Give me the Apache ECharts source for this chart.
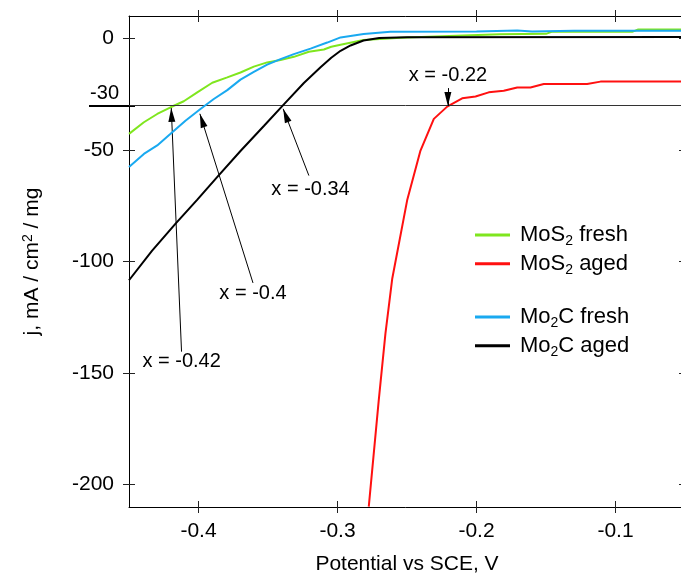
<!DOCTYPE html>
<html><head><meta charset="utf-8">
<script src="https://cdn.jsdelivr.net/npm/echarts@6/dist/echarts.min.js"></script>
<style>html,body{margin:0;padding:0;background:#fff;}#c{width:681px;height:575px;}</style>
</head><body><div id="c"></div>
<script>
// ---- data (potential in V vs SCE, current density j in mA/cm2/mg) ----
const mos2FreshX = [-0.45, -0.4393, -0.4297, -0.4201, -0.4106, -0.4009, -0.3901, -0.3793, -0.3698, -0.3602, -0.3506, -0.341, -0.3314, -0.3206, -0.3098, -0.3045, -0.2978, -0.2813, -0.2547, -0.2094, -0.183, -0.15, -0.146, -0.088, -0.084, -0.05];
const mos2FreshY = [-42.8, -37.6, -33.9, -30.9, -28.2, -24.2, -19.9, -17.5, -15.3, -12.7, -10.8, -9.7, -8.3, -6.0, -5.0, -3.8, -2.9, -0.8, 0.2, 1.25, 1.8, 2.0, 2.9, 2.9, 3.9, 3.9];

const mos2AgedX = [-0.2775, -0.2703, -0.2655, -0.2606, -0.2499, -0.2403, -0.2307, -0.2211, -0.2103, -0.2007, -0.1912, -0.1804, -0.1707, -0.1612, -0.1516, -0.1204, -0.1108, -0.05];
const mos2AgedY = [-209.8, -162.0, -132.2, -107.6, -72.6, -50.3, -36.1, -30.6, -26.9, -26.1, -24.2, -23.5, -22.0, -22.0, -20.5, -20.5, -19.4, -19.4];

const mo2cFreshX = [-0.45, -0.4393, -0.4297, -0.4201, -0.4094, -0.3986, -0.389, -0.3793, -0.3698, -0.3602, -0.3506, -0.341, -0.3314, -0.3194, -0.3074, -0.2978, -0.2812, -0.2619, -0.2, -0.1707, -0.16, -0.13, -0.05];
const mo2cFreshY = [-57.7, -51.8, -48.0, -42.8, -36.9, -31.7, -27.2, -23.2, -18.5, -15.0, -11.8, -9.3, -7.1, -4.6, -1.9, 0.4, 1.9, 2.9, 3.0, 3.5, 3.1, 3.4, 3.4];

const mo2cAgedX = [-0.45, -0.4335, -0.4165, -0.401, -0.3866, -0.3698, -0.353, -0.3386, -0.3242, -0.3122, -0.3045, -0.2978, -0.2906, -0.2813, -0.27, -0.25, -0.05];
const mo2cAgedY = [-108.4, -95.2, -83.0, -72.4, -62.2, -50.5, -39.3, -29.6, -20.0, -13.0, -8.7, -5.6, -3.2, -1.0, 0.1, 0.5, 0.6];

const seriesNames = ['MoS2 fresh', 'MoS2 aged', 'Mo2C fresh', 'Mo2C aged'];
const xTicks = [-0.4, -0.3, -0.2, -0.1];
const yTicks = [0, -50, -100, -150, -200];
const refLevel = -30;
const crossLabels = ['x = -0.42', 'x = -0.4', 'x = -0.34', 'x = -0.22'];
const crossX = [-0.4196, -0.399, -0.3391, -0.2206];

// ---- annotation layout (data-space anchors) ----
const noteAt = [[-0.4121, -144.6], [-0.3608, -114.3], [-0.3194, -67.7], [-0.2205, -16.8]];
const arrowFrom = [[-0.4122, -140.4], [-0.3608, -109.6], [-0.3206, -61.5], [-0.2206, -22.3]];
const arrowToY = [-31.2, -33.8, -31.6, -30.3];

const FONT = 'Liberation Sans, Arial, Helvetica, sans-serif';
const zip = (xs, ys) => xs.map((x, i) => [x, ys[i]]);
const colors = ['#7fe61e', '#ff1010', '#19a9f0', '#000000'];
const datasets = [zip(mos2FreshX, mos2FreshY), zip(mos2AgedX, mos2AgedY), zip(mo2cFreshX, mo2cFreshY), zip(mo2cAgedX, mo2cAgedY)];

const chart = echarts.init(document.getElementById('c'), null, {renderer: 'canvas'});

const XMIN = -0.45, XMAX = -0.05, YMIN = -210, YMAX = 10;
function xAx(pos, inside, main) {
  return {
    type: 'value', position: pos, min: XMIN, max: XMAX, gridIndex: 0,
    axisLine: {show: !inside, onZero: false, lineStyle: {color: '#000', width: 1}},
    axisTick: {show: true, inside: inside, length: 6, customValues: xTicks, lineStyle: {color: '#222', width: 1}},
    axisLabel: {show: !!main, customValues: xTicks, fontSize: 21, fontFamily: FONT, color: '#000', margin: 14},
    splitLine: {show: false},
    name: main ? 'Potential vs SCE, V' : '', nameLocation: 'middle', nameGap: 47,
    nameTextStyle: {fontSize: 21, fontFamily: FONT, color: '#000'}
  };
}
function yAx(pos, inside, main) {
  return {
    type: 'value', position: pos, min: YMIN, max: YMAX, gridIndex: 0,
    axisLine: {show: !inside, onZero: false, lineStyle: {color: '#000', width: 1}},
    axisTick: {show: true, inside: inside, length: 6, customValues: yTicks, lineStyle: {color: '#222', width: 1}},
    axisLabel: {show: !!main, customValues: yTicks, fontSize: 21, fontFamily: FONT, color: '#000', margin: 15},
    splitLine: {show: false},
    name: main ? 'j, mA / cm{sup|2} / mg' : '', nameLocation: 'middle', nameGap: 86,
    nameTextStyle: {fontSize: 21, fontFamily: FONT, color: '#000', rich: {sup: {fontSize: 14, fontFamily: FONT, verticalAlign: 'top', padding: [0, 0, 8, 0]}}}
  };
}

const legendFmt = n => n.replace(/(\D)2/, '$1{s|2}');
const legendText = {fontSize: 22, fontFamily: FONT, color: '#000', padding: [0, 0, 0, 5], lineHeight: 24,
  rich: {s: {fontSize: 14, fontFamily: FONT, color: '#000', lineHeight: 14, verticalAlign: 'top', padding: [11, 0, 0, 0]}}};

const markData = [
  {yAxis: refLevel, lineStyle: {color: '#333', width: 1}, symbol: 'none'}
];
crossX.forEach((cx, i) => {
  markData.push([
    {coord: arrowFrom[i], symbol: 'none'},
    {coord: [cx, arrowToY[i]], symbol: 'triangle', symbolSize: [7, 14], symbolOffset: [0, 7]}
  ]);
});

const series = seriesNames.map((n, i) => ({
  name: n, type: 'line', data: datasets[i], xAxisIndex: 0, yAxisIndex: 0,
  symbol: 'none', showSymbol: false, smooth: false, clip: true,
  lineStyle: {color: colors[i], width: 2}, itemStyle: {color: colors[i]}, z: 3 + i
}));
series.push({
  name: 'notes', type: 'line', data: [], xAxisIndex: 0, yAxisIndex: 0, symbol: 'none', z: 10,
  markLine: {silent: true, animation: false, symbol: ['none', 'none'], label: {show: false},
    lineStyle: {color: '#000', width: 1, type: 'solid'}, emphasis: {disabled: true}, data: markData},
  markPoint: {silent: true, animation: false, symbol: 'rect', symbolSize: 0,
    label: {show: true, position: 'inside', formatter: '{b}', fontSize: 20, fontFamily: FONT, color: '#000'},
    data: crossLabels.map((t, i) => ({name: t, coord: noteAt[i]}))}
});

const legendBase = {orient: 'vertical', left: 475, padding: 0, icon: 'rect', itemWidth: 35, itemHeight: 3, itemGap: 3.7,
  textStyle: legendText, formatter: legendFmt, selectedMode: false};

chart.setOption({
  animation: false,
  backgroundColor: '#fff',
  grid: {left: 129, top: 16, width: 556, height: 491, containLabel: false, outerBoundsMode: 'none'},
  xAxis: [xAx('bottom', false, true), xAx('bottom', true, false), xAx('top', false, false), xAx('top', true, false)],
  yAxis: [yAx('left', false, true), yAx('left', true, false), yAx('right', false, false), yAx('right', true, false),
    {
      type: 'value', position: 'left', offset: -6, min: YMIN, max: YMAX, gridIndex: 0,
      axisLine: {show: false},
      axisTick: {show: true, length: 46, customValues: [refLevel], lineStyle: {color: '#000', width: 2}},
      axisLabel: {show: true, customValues: [refLevel], fontSize: 20, fontFamily: FONT, color: '#000', margin: 16, verticalAlign: 'bottom', padding: [0, 0, 2, 0]},
      splitLine: {show: false}
    }],
  legend: [
    Object.assign({data: seriesNames.slice(0, 2), top: 223}, legendBase),
    Object.assign({data: seriesNames.slice(2, 4), top: 305}, legendBase)
  ],
  series: series
});
</script></body></html>
